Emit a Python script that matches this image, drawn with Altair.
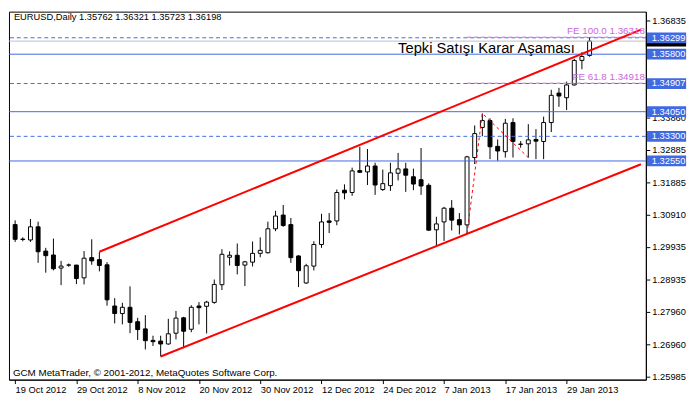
import json
import altair as alt
import pandas as pd

# ---------------- data ----------------
date_labels = ["19 Oct 2012", "29 Oct 2012", "8 Nov 2012", "20 Nov 2012", "30 Nov 2012",
               "12 Dec 2012", "24 Dec 2012", "7 Jan 2013", "17 Jan 2013", "29 Jan 2013"]
label_bars = [0, 8, 16, 24, 32, 40, 48, 56, 64, 72]

bar_index = list(range(76))
opens = [1.30614, 1.30160, 1.30146, 1.30546, 1.29808, 1.29689, 1.29291, 1.29381, 1.29381, 1.28993,
         1.29608, 1.29548, 1.29390, 1.28136, 1.27906, 1.28097, 1.27658, 1.27440, 1.27090, 1.27069,
         1.26980, 1.27308, 1.27777, 1.27428, 1.28136, 1.28127, 1.28246, 1.28784, 1.29620, 1.29680,
         1.29381, 1.29471, 1.29739, 1.29757, 1.30486, 1.30904, 1.30614, 1.29659, 1.28837, 1.29351,
         1.30008, 1.30725, 1.30725, 1.31660, 1.31591, 1.32257, 1.32218, 1.32397, 1.31681, 1.31800,
         1.32176, 1.32308, 1.32069, 1.31979, 1.31809, 1.30456, 1.30695, 1.31113, 1.30764, 1.30605,
         1.32654, 1.33571, 1.33780, 1.32995, 1.32833, 1.33720, 1.33063, 1.33072, 1.33204, 1.33144,
         1.33720, 1.34616, 1.34476, 1.34864, 1.35611, 1.35762]
highs = [1.30743, 1.30226, 1.30785, 1.30704, 1.29907, 1.30187, 1.29509, 1.29429, 1.29390, 1.29808,
         1.30166, 1.29787, 1.29471, 1.28375, 1.28234, 1.28733, 1.27777, 1.27858, 1.27231, 1.27231,
         1.27747, 1.27986, 1.27807, 1.28157, 1.28255, 1.28294, 1.28942, 1.29868, 1.29799, 1.30038,
         1.29509, 1.30098, 1.30226, 1.30704, 1.31033, 1.31212, 1.30815, 1.29680, 1.29420, 1.30107,
         1.30943, 1.30964, 1.31681, 1.31839, 1.32347, 1.32983, 1.32914, 1.32496, 1.32287, 1.32496,
         1.32795, 1.32496, 1.32317, 1.32944, 1.31869, 1.30853, 1.31152, 1.31361, 1.30964, 1.32705,
         1.33631, 1.33998, 1.33849, 1.33204, 1.33831, 1.33849, 1.33153, 1.33670, 1.33520, 1.33900,
         1.34715, 1.34775, 1.34966, 1.35662, 1.35862, 1.36321]
lows = [1.30086, 1.30107, 1.30086, 1.29450, 1.29151, 1.29220, 1.28772, 1.29330, 1.28802, 1.28793,
        1.29390, 1.29190, 1.28145, 1.27607, 1.27577, 1.27308, 1.27099, 1.26813, 1.26920, 1.26600,
        1.26962, 1.27120, 1.26851, 1.27338, 1.27577, 1.27299, 1.28204, 1.28622, 1.29369, 1.29100,
        1.28742, 1.29339, 1.29620, 1.29733, 1.30414, 1.30546, 1.29450, 1.28712, 1.28808, 1.29220,
        1.29907, 1.30355, 1.30594, 1.31382, 1.31489, 1.32188, 1.31818, 1.31519, 1.31639, 1.31639,
        1.31958, 1.31609, 1.31660, 1.31519, 1.30420, 1.29966, 1.30116, 1.30435, 1.30316, 1.30333,
        1.32457, 1.33302, 1.32606, 1.32556, 1.32654, 1.32654, 1.32953, 1.32653, 1.32606, 1.32606,
        1.33431, 1.34198, 1.34100, 1.34846, 1.35342, 1.35723]
closes = [1.30166, 1.30172, 1.30546, 1.29787, 1.29668, 1.29270, 1.29351, 1.29385, 1.28972, 1.29590,
          1.29509, 1.29369, 1.28324, 1.27906, 1.28097, 1.27637, 1.27419, 1.27081, 1.27052, 1.26980,
          1.27290, 1.27768, 1.27368, 1.28097, 1.28085, 1.28255, 1.28793, 1.29710, 1.29680, 1.29369,
          1.29480, 1.29739, 1.29829, 1.30486, 1.30874, 1.30585, 1.29608, 1.29211, 1.29360, 1.30008,
          1.30695, 1.30683, 1.31591, 1.31579, 1.32248, 1.32206, 1.32397, 1.31818, 1.31860, 1.32188,
          1.32308, 1.32117, 1.31848, 1.31788, 1.30444, 1.30635, 1.31113, 1.30749, 1.30605, 1.32675,
          1.33383, 1.33780, 1.32983, 1.32854, 1.33699, 1.33144, 1.33057, 1.33192, 1.33153, 1.33720,
          1.34548, 1.34527, 1.34864, 1.35611, 1.35730, 1.36198]

y_ticks = [1.36835, 1.33860, 1.32885, 1.31885, 1.30910, 1.29935, 1.28935, 1.27960, 1.26960, 1.25985]

solid_levels = [1.35800, 1.34050, 1.32550]
dashed_levels = [1.36299, 1.34907, 1.33300]
box_levels = [1.36299, 1.35800, 1.34907, 1.34050, 1.33300, 1.32550]
bid_price = 1.36198

# Fibonacci expansion anchors (bar index, price)
fe_bars = [59, 61, 67]
fe_prices = [1.30333, 1.33998, 1.32653]
fe_levels = [1.36318, 1.34918]
fe_texts = ["FE 100.0 1.36318", "FE 61.8 1.34918"]

# trend channel (start bar/price -> price at right edge)
chan_x0 = [11, 19]
chan_y0 = [1.29787, 1.26600]
chan_x1 = [81.71, 81.71]
chan_y1 = [1.36549, 1.32451]

header = "EURUSD,Daily  1.35762 1.36321 1.35723 1.36198"
footer = "GCM MetaTrader, \u00a9 2001-2012, MetaQuotes Software Corp."
note_text = "Tepki Sat\u0131\u015f\u0131 Karar A\u015famas\u0131"
note_bar = 50
note_price = 1.35845

# ---------------- layout ----------------
W, H = 649, 375
FONT = "Liberation Sans"
BLUE = "#4169E1"
FE_COLOR = "#CC66DD"

xs = alt.Scale(domain=[-0.1625, 81.71], nice=False, zero=False)
ys = alt.Scale(domain=[1.25895, 1.37095], nice=False, zero=False)

df = pd.DataFrame({"i": bar_index, "open": opens, "high": highs, "low": lows, "close": closes})

label_expr = json.dumps(date_labels) + "[round(datum.value / 8)]"

x_axis = alt.Axis(values=label_bars, labelExpr=label_expr, tickSize=4, labelAlign="left",
                  labelPadding=1, labelFont=FONT, labelFontSize=9.5, labelColor="black",
                  domainColor="black", tickColor="black", grid=False, labelOverlap=False,
                  labelFlush=False, title=None)
y_axis = alt.Axis(orient="right", values=y_ticks, format=".5f", tickSize=4, labelPadding=2,
                  labelFont=FONT, labelFontSize=9.5, labelColor="black", domainColor="black",
                  tickColor="black", grid=False, labelOverlap=False, labelFlush=False, title=None)


def X(field):
    return alt.X(field, scale=xs, axis=x_axis, title=None)


def Y(field):
    return alt.Y(field, scale=ys, axis=y_axis, title=None)


wicks = alt.Chart(df).mark_rule(color="black", strokeWidth=1).encode(
    x=X("i:Q"), y=Y("low:Q"), y2="high:Q")

bodies = alt.Chart(df).mark_bar(size=4, stroke="black", strokeWidth=1).encode(
    x=X("i:Q"), y=Y("open:Q"), y2="close:Q",
    fill=alt.condition("datum.close >= datum.open", alt.value("white"), alt.value("black")),
)

solid_df = pd.DataFrame({"p": solid_levels})
dashed_df = pd.DataFrame({"p": dashed_levels})
solid_rules = alt.Chart(solid_df).mark_rule(color=BLUE, strokeWidth=1).encode(y=Y("p:Q"))
dashed_rules = alt.Chart(dashed_df).mark_rule(color=BLUE, strokeWidth=1, strokeDash=[4, 3]).encode(
    y=Y("p:Q"))

bid_df = pd.DataFrame({"p": [bid_price]})
bid_rule = alt.Chart(bid_df).mark_rule(color="#C0C0C0", strokeWidth=1).encode(y=Y("p:Q"))

fe_df = pd.DataFrame({"x": fe_bars, "p": fe_prices, "o": [0, 1, 2]})
fe_path = alt.Chart(fe_df).mark_line(color="#FF0000", strokeWidth=1, strokeDash=[3, 3]).encode(
    x=X("x:Q"), y=Y("p:Q"), order="o:Q")

fel_df = pd.DataFrame({"x": [fe_bars[0]] * 2, "p": fe_levels, "t": fe_texts})
fe_lines = alt.Chart(fel_df).mark_rule(color=FE_COLOR, strokeWidth=1, strokeDash=[4, 3]).encode(
    x=X("x:Q"), x2=alt.value(W), y=Y("p:Q"))
fe_labels = alt.Chart(fel_df).mark_text(align="right", baseline="bottom", dy=-1, font=FONT,
                                        fontSize=10, color=FE_COLOR).encode(
    x=alt.value(W - 1), y=Y("p:Q"), text="t:N")

chan_df = pd.DataFrame({"x0": chan_x0, "y0": chan_y0, "x1": chan_x1, "y1": chan_y1})
channel = alt.Chart(chan_df).mark_rule(color="#FF0000", strokeWidth=2, clip=True).encode(
    x=X("x0:Q"), x2="x1:Q", y=Y("y0:Q"), y2="y1:Q")

note_df = pd.DataFrame({"x": [note_bar], "p": [note_price], "t": [note_text]})
note = alt.Chart(note_df).mark_text(align="left", baseline="alphabetic", font=FONT, fontSize=15,
                                    color="black").encode(
    x=X("x:Q"), y=Y("p:Q"), text="t:N")

head_df = pd.DataFrame({"t": [header]})
head = alt.Chart(head_df).mark_text(align="left", baseline="middle", font=FONT, fontSize=9.5,
                                    color="black").encode(
    x=alt.value(5), y=alt.value(6), text="t:N")

foot_df = pd.DataFrame({"t": [footer]})
foot = alt.Chart(foot_df).mark_text(align="left", baseline="middle", font=FONT, fontSize=10,
                                    color="black").encode(
    x=alt.value(4), y=alt.value(368), text="t:N")

bidbox = alt.Chart(bid_df).mark_rule(color="black", strokeWidth=11, clip=False).encode(
    x=alt.value(W), x2=alt.value(W + 41), y=Y("p:Q"))

box_df = pd.DataFrame({"p": box_levels})
boxes = alt.Chart(box_df).mark_rule(color=BLUE, strokeWidth=11, clip=False).encode(
    x=alt.value(W + 1), x2=alt.value(W + 41), y=Y("p:Q"))
box_text = alt.Chart(box_df).mark_text(align="left", baseline="middle", font=FONT, fontSize=9.5,
                                       color="white", clip=False).encode(
    x=alt.value(W + 6), y=Y("p:Q"), text=alt.Text("p:Q", format=".5f"))

chart = alt.layer(
    wicks, bodies, bid_rule, solid_rules, dashed_rules, fe_lines, fe_path, channel,
    note, fe_labels, head, foot, bidbox, boxes, box_text,
).properties(width=W, height=H, padding=0, background="white").configure_view(
    stroke="black", strokeWidth=1
)

chart.save("out.html", embed_options={"renderer": "svg", "actions": False})
